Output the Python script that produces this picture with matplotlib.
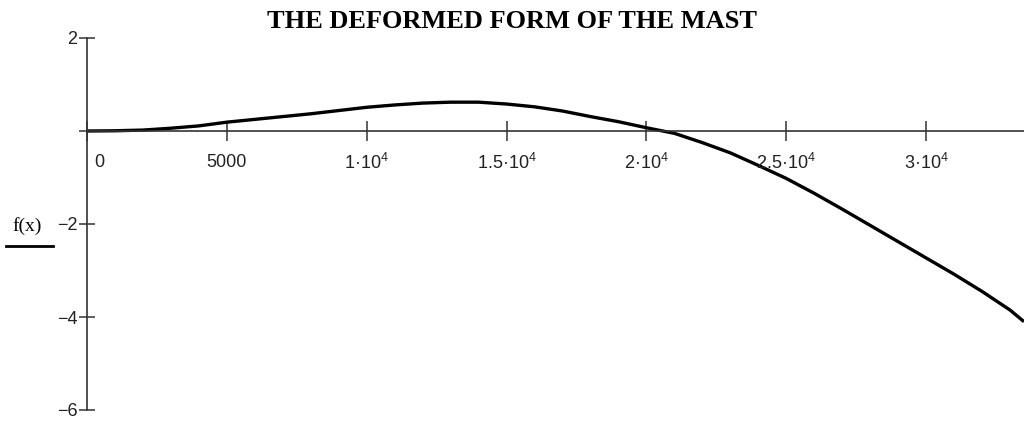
import matplotlib
matplotlib.use('Agg')
import matplotlib.pyplot as plt
import numpy as np

plt.rcParams['mathtext.fontset'] = 'custom'
plt.rcParams['mathtext.rm'] = 'Liberation Sans'
plt.rcParams['mathtext.it'] = 'Liberation Sans'

# deflection of the mast
x_pos = [0, 1000, 2000, 3000, 4000, 5000, 6000, 7000, 8000, 9000, 10000,
         11000, 12000, 13000, 14000, 15000, 16000, 17000, 18000, 19000, 20000,
         21000, 22000, 23000, 24000, 25000, 26000, 27000, 28000, 29000, 30000,
         31000, 32000, 33000, 33500]
f_val = [0, 0.005, 0.02, 0.06, 0.11, 0.19, 0.25, 0.31, 0.37, 0.44, 0.51,
         0.56, 0.60, 0.62, 0.62, 0.58, 0.52, 0.43, 0.31, 0.20, 0.07,
         -0.05, -0.25, -0.47, -0.74, -1.02, -1.34, -1.68, -2.03, -2.38, -2.73,
         -3.08, -3.45, -3.85, -4.1]

xticks = [0, 5000, 10000, 15000, 20000, 25000, 30000]
xticklabels = ['0', '5000', r'1·10$^4$', r'1.5·10$^4$', r'2·10$^4$', r'2.5·10$^4$', r'3·10$^4$']
yticks = [2, 0, -2, -4, -6]
yticklabels = ['2', '', '\u22122', '\u22124', '\u22126']

fig = plt.figure(figsize=(10.24, 4.22), dpi=100)
ax = fig.add_axes([87 / 1024, 12 / 422, 1 - 87 / 1024, 372 / 422])

ax.plot(x_pos, f_val, color='black', linewidth=2.4, solid_capstyle='butt')

ax.set_xlim(0, 33500)
ax.set_ylim(-6, 2)

for side in ['top', 'right']:
    ax.spines[side].set_visible(False)
ax.spines['bottom'].set_position(('data', 0))
ax.spines['left'].set_color('#333333')
ax.spines['bottom'].set_color('#333333')
ax.spines['left'].set_linewidth(1.2)
ax.spines['bottom'].set_linewidth(1.2)

ax.set_xticks(xticks)
ax.set_xticklabels([])
ax.set_yticks(yticks)
ax.set_yticklabels(yticklabels, fontsize=13, family='Liberation Sans', color='#222222')
ax.tick_params(axis='x', direction='inout', length=14, width=1.1, color='#333333')
ax.tick_params(axis='y', direction='inout', length=12, width=1.1, color='#333333', pad=1)

for xv, lab in zip(xticks, xticklabels):
    if xv == 0:
        ax.text(250, -0.68, lab, ha='left', va='center', fontsize=13,
                family='Liberation Sans', color='#222222')
    else:
        ax.text(xv, -0.68, lab, ha='center', va='center', fontsize=13,
                family='Liberation Sans', color='#222222')

fig.text(512 / 1024, 1 - 22 / 422, 'THE DEFORMED FORM OF THE MAST', ha='center', va='center',
         fontsize=19, fontweight='bold', family='Liberation Serif')
fig.text(27 / 1024, 1 - 226 / 422, 'f(x)', ha='center', va='center',
         fontsize=14, family='Liberation Serif')
fig.add_artist(plt.Line2D([6 / 1024, 53 / 1024], [1 - 246 / 422, 1 - 246 / 422],
                          color='black', linewidth=2))

fig.savefig('out.png', dpi=100)
